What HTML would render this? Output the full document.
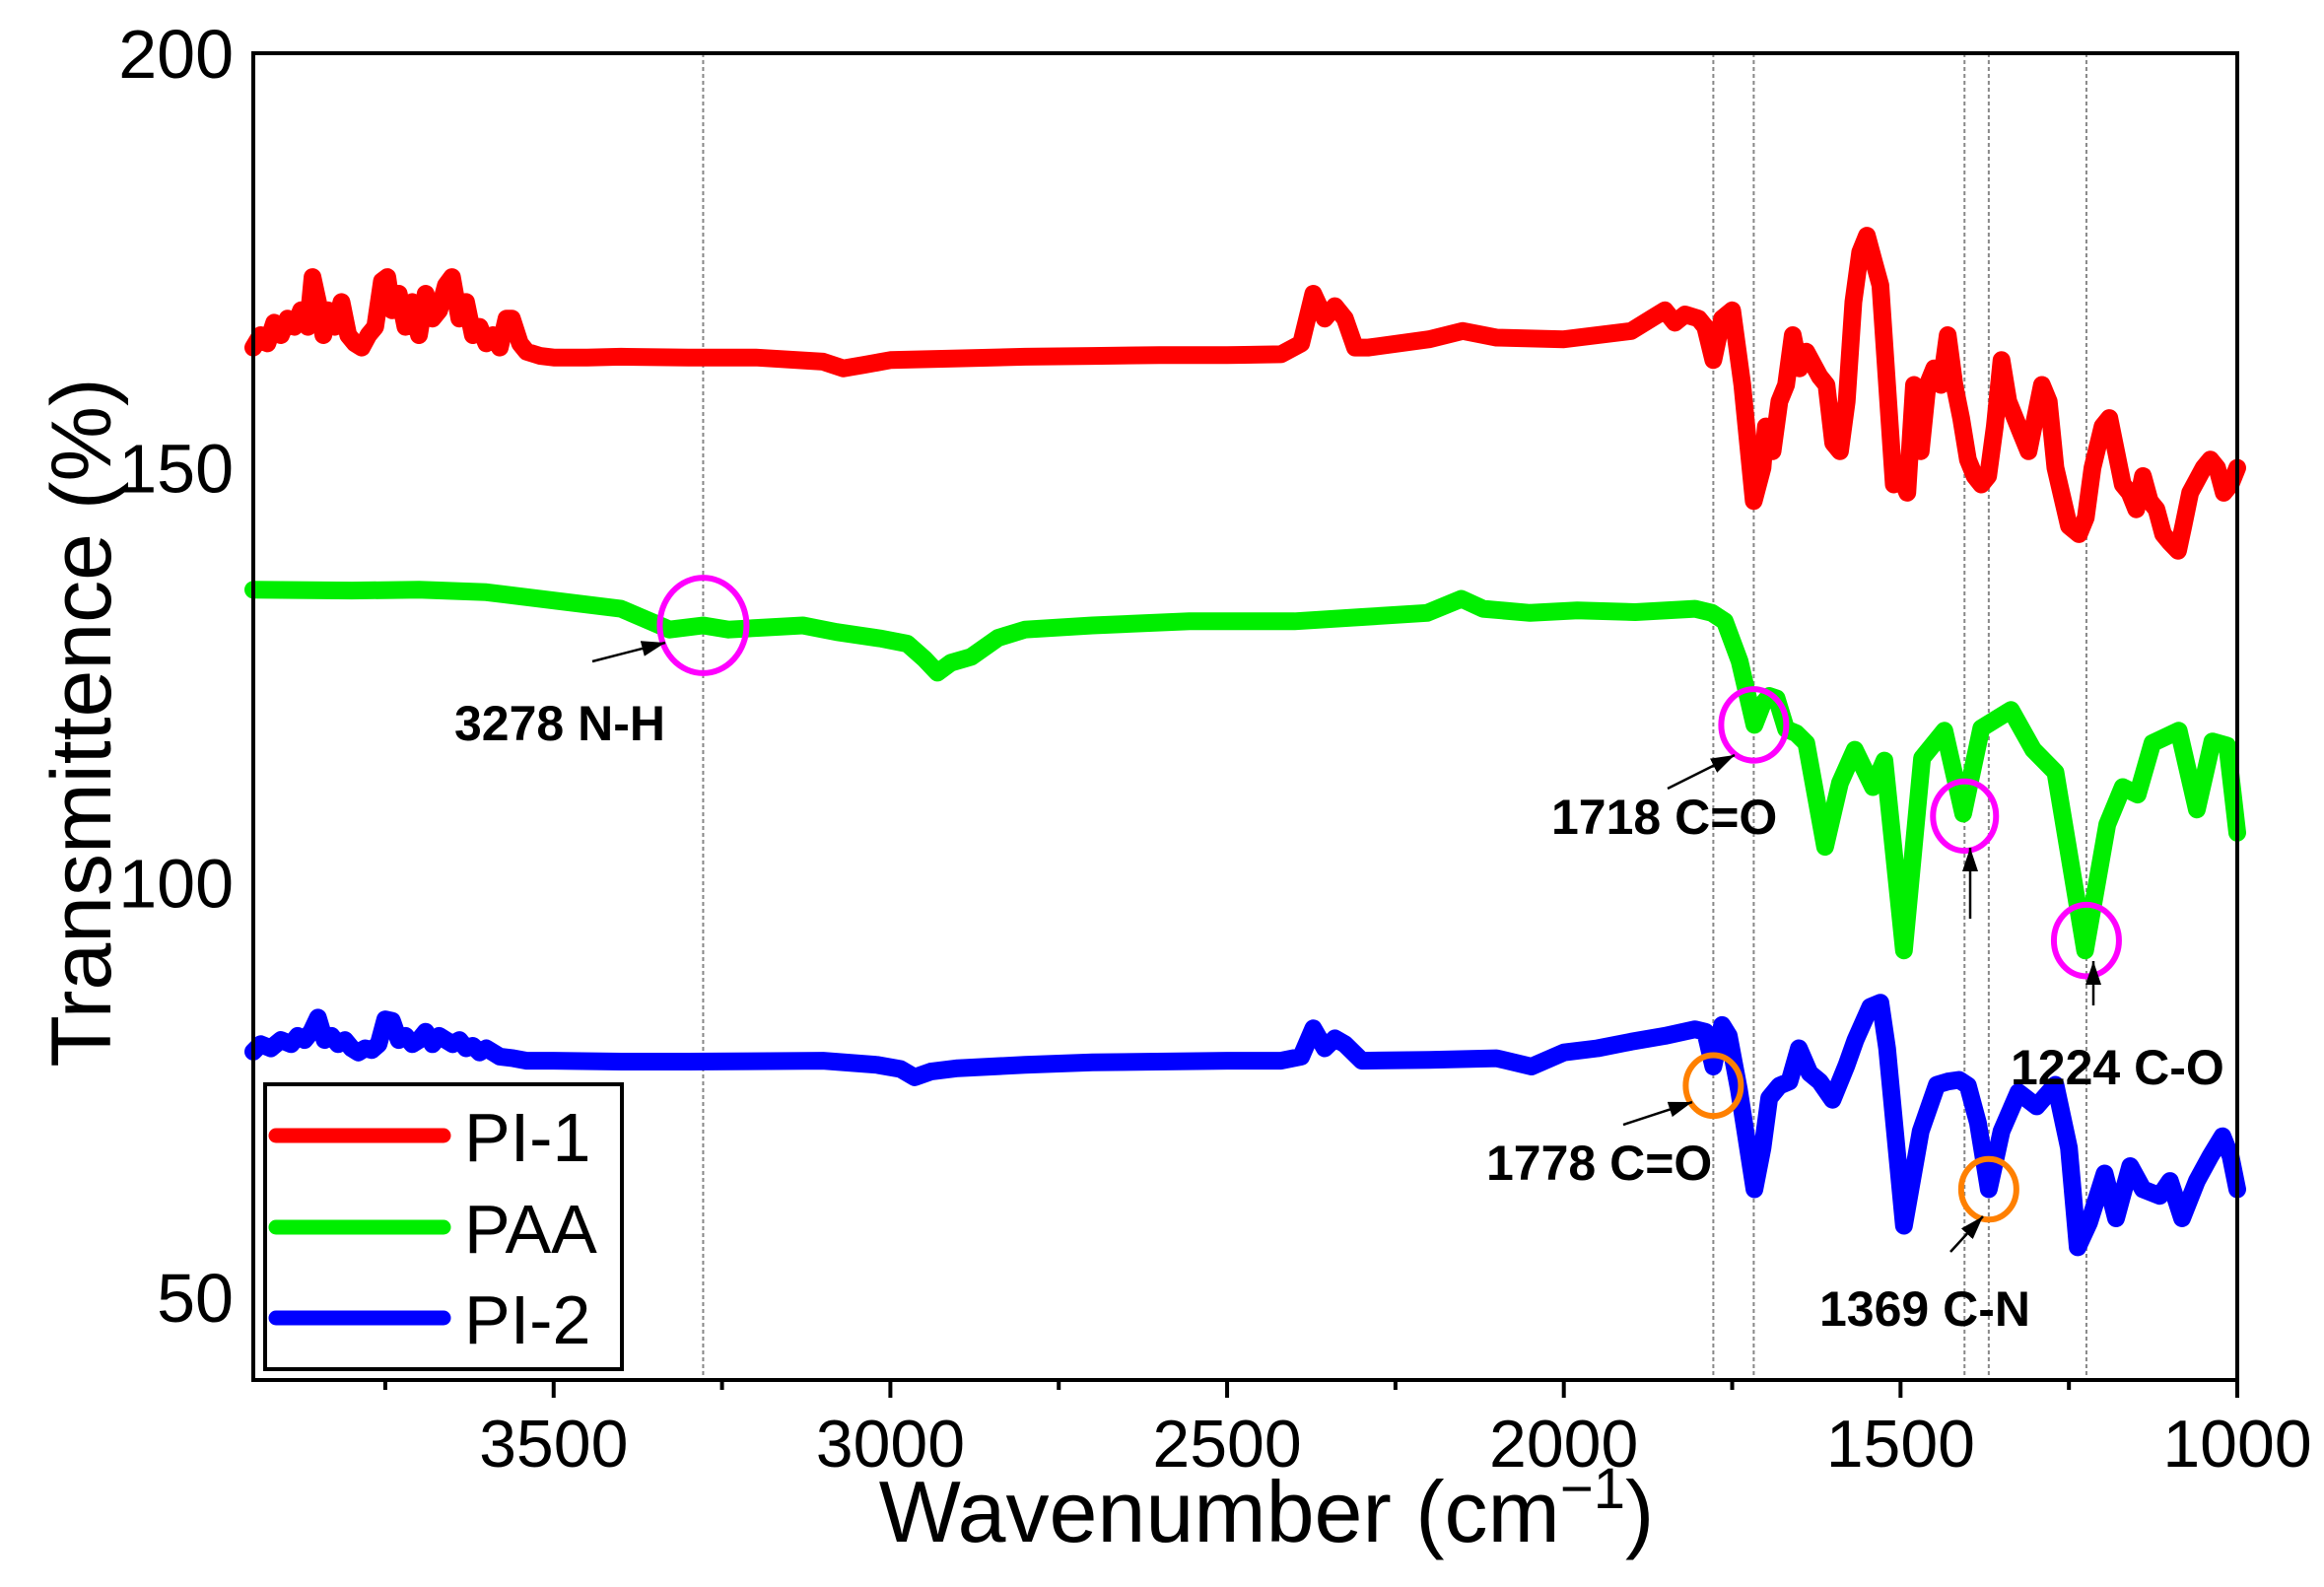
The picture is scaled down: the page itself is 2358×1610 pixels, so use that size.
<!DOCTYPE html>
<html><head><meta charset="utf-8"><style>
html,body{margin:0;padding:0;background:#fff;}
svg{display:block;font-family:"Liberation Sans",Arial,sans-serif;}
</style></head><body>
<svg id="chart" width="2358" height="1610" viewBox="0 0 2358 1610" xmlns="http://www.w3.org/2000/svg">
<defs><marker id="ah" markerWidth="24" markerHeight="16" refX="24" refY="8" orient="auto" markerUnits="userSpaceOnUse"><path d="M0,0 L24,8 L0,16 z" fill="#000"/></marker></defs>
<rect x="0" y="0" width="2358" height="1610" fill="#fff"/>
<g id="grid"></g>
<g id="series"></g>
<g id="annot"></g>
<rect x="257" y="54" width="2013" height="1346" fill="none" stroke="#000" stroke-width="4"/>
<g id="axes"></g>
<text x="1285" y="1564" font-size="88" text-anchor="middle">Wavenumber (cm<tspan font-size="58" dy="-34">−1</tspan><tspan dy="34">)</tspan></text>
<text transform="translate(112,733) rotate(-90)" font-size="86" text-anchor="middle">Transmittence (%)</text>
<g>
<rect x="269" y="1100" width="362" height="289" fill="#fff" stroke="#000" stroke-width="4"/>
<line x1="280" y1="1152" x2="450" y2="1152" stroke="#ff0000" stroke-width="15" stroke-linecap="round"/>
<text x="471" y="1178" font-size="70">PI-1</text>
<line x1="280" y1="1245" x2="450" y2="1245" stroke="#00ee00" stroke-width="15" stroke-linecap="round"/>
<text x="471" y="1271" font-size="70">PAA</text>
<line x1="280" y1="1337" x2="450" y2="1337" stroke="#0000ff" stroke-width="15" stroke-linecap="round"/>
<text x="471" y="1363" font-size="70">PI-2</text>
</g>
</svg>
<script>
const xTicks=[3500,3000,2500,2000,1500,1000];
const xMinorTicks=[3750,3250,2750,2250,1750,1250];
const yTicks=[50,100,150,200];
const refLines=[3278,1778,1718,1405,1369,1224];
const pi1Wn=[3946,3935,3925,3915,3905,3895,3885,3875,3865,3858,3850,3842,3835,3825,3815,3805,3795,3785,3775,3765,3755,3747,3740,3730,3720,3710,3700,3690,3680,3670,3660,3651,3640,3630,3620,3610,3600,3590,3580,3570,3562,3550,3540,3520,3500,3450,3400,3300,3200,3100,3070,3040,3000,2900,2800,2700,2600,2500,2420,2390,2372,2355,2340,2325,2310,2290,2200,2150,2100,2000,1900,1870,1850,1835,1820,1800,1790,1778,1765,1750,1735,1718,1705,1700,1690,1680,1670,1660,1650,1640,1620,1610,1600,1590,1580,1570,1560,1550,1540,1530,1520,1510,1500,1490,1480,1470,1460,1450,1440,1430,1420,1410,1400,1390,1380,1370,1360,1350,1340,1330,1320,1310,1300,1290,1280,1270,1250,1235,1225,1215,1200,1190,1180,1170,1160,1150,1140,1130,1120,1110,1100,1088,1080,1070,1050,1040,1030,1020,1010,1000];
const pi1Val=[164.5,166,165,167.5,166,168,167,169,167,173,170,166,169,167,170,166,165,164.5,166,167,172.5,173,169,171,167,170,166,171,168,169,172,173,168,170,166,167,165,166,164.5,168,168,165,164,163.5,163.3,163.3,163.4,163.3,163.3,162.8,162,162.4,163,163.2,163.4,163.5,163.6,163.6,163.7,165,171,168,169.5,168,164.5,164.5,165.5,166.5,165.7,165.5,166.5,168,169,167.5,168.5,168,167,163,168,169,160,146,150,155,152,158,160,166,162,164,161,160,153,152,158,170,176,178,175,172,160,148,149,147,160,152,160,162,160,166,160,156,151,149,148,149,155,163,158,156,154,152,156,160,158,150,143,142,144,150,155,156,152,148,147,145,149,146,145,142,141,140,143,147,150,151,150,147,148,150];
const paaWn=[3946,3800,3700,3600,3500,3400,3328,3278,3240,3173,3130,3080,3013,2975,2950,2930,2910,2880,2840,2800,2700,2556,2400,2300,2203,2152,2120,2050,1980,1894,1805,1780,1761,1739,1717,1705,1695,1684,1670,1655,1640,1612,1590,1568,1541,1524,1495,1468,1435,1407,1380,1336,1303,1270,1226,1193,1170,1148,1126,1087,1060,1037,1015,1000];
const paaVal=[135.3,135.2,135.3,135,134,133,130.5,131,130.5,130.8,131,130.2,129.4,128.8,127,125.3,126.5,127.2,129.5,130.5,131,131.5,131.5,132,132.5,134.2,133,132.5,132.8,132.6,133,132.5,131.5,126.7,119,121.5,122.5,122.2,118.5,118,116.8,104.3,112,116,111.5,114.7,91.8,115,118.3,108.3,118.6,120.8,116,113.3,91.8,107,111.5,110.6,116.8,118.3,108.8,117,116.5,106];
const pi2Wn=[3946,3935,3920,3905,3890,3880,3870,3860,3850,3840,3830,3820,3810,3800,3790,3780,3770,3760,3750,3740,3730,3720,3710,3700,3690,3680,3670,3660,3650,3640,3630,3620,3610,3600,3580,3560,3540,3500,3400,3300,3100,3020,2985,2964,2940,2900,2800,2700,2500,2420,2390,2372,2355,2340,2325,2300,2200,2100,2048,2000,1950,1900,1850,1805,1790,1778,1765,1755,1740,1717,1705,1695,1680,1665,1651,1635,1620,1601,1580,1567,1545,1530,1520,1495,1470,1446,1430,1413,1400,1385,1369,1350,1325,1298,1270,1250,1237,1220,1197,1180,1159,1140,1115,1100,1082,1060,1040,1022,1010,1000];
const pi2Val=[79.6,80.5,80,81,80.5,81.5,81,82,83.7,81,81.5,80.5,81,80,79.5,80,79.8,80.5,83.5,83.3,81,81.5,80.5,81,82,80.5,81.5,81,80.5,81,80,80.3,79.5,80,79,78.8,78.5,78.5,78.4,78.4,78.5,78,77.5,76.5,77.2,77.6,78,78.3,78.5,78.5,79,82.4,80,81.2,80.5,78.5,78.6,78.8,77.8,79.5,80,80.8,81.5,82.3,82,77.8,82.8,81.5,75,63,68,74,75.5,76,80,77,76,73.8,78,81,85,85.5,80,58.6,70,75.6,76,76.2,75.5,71,63,70,74.7,73,75.6,68,56,59,64.9,59.5,65.8,63,62.2,64,59.5,64,67,69.4,67,63];
const SVGNS='http://www.w3.org/2000/svg';
const X0=257,X1=2270,Y0=54,Y1=1400,WN0=3946,WN1=1000,V0=40,V1=200;
function xs(w){return X0+(WN0-w)*(X1-X0)/(WN0-WN1);}
function ys(v){return Y1-(v-V0)*(Y1-Y0)/(V1-V0);}
function mk(tag,attrs,parent){const e=document.createElementNS(SVGNS,tag);for(const k in attrs)e.setAttribute(k,attrs[k]);parent.appendChild(e);return e;}
const grid=document.getElementById('grid'),series=document.getElementById('series'),axes=document.getElementById('axes'),annot=document.getElementById('annot');
refLines.forEach(w=>{const l=mk('line',{x1:xs(w),x2:xs(w),y1:Y0,y2:Y1,stroke:'#888','stroke-width':2,'stroke-dasharray':'4,3'},grid);

});
function drawSeries(wn,val,color,name){const d=wn.map((w,i)=>(i?'L':'M')+xs(w).toFixed(1)+','+ys(val[i]).toFixed(1)).join(' ');
const p=mk('path',{d:d,fill:'none',stroke:color,'stroke-width':18,'stroke-linejoin':'round','stroke-linecap':'round'},series);

}
drawSeries(pi1Wn,pi1Val,'#ff0000','series-pi1');
drawSeries(paaWn,paaVal,'#00ee00','series-paa');
drawSeries(pi2Wn,pi2Val,'#0000ff','series-pi2');
xTicks.forEach(w=>{const t=mk('line',{x1:xs(w),x2:xs(w),y1:Y1,y2:Y1+18,stroke:'#000','stroke-width':4},axes);


const tx=mk('text',{x:xs(w),y:1488,'font-size':68,'text-anchor':'middle'},axes);tx.textContent=w;

});
xMinorTicks.forEach(w=>{const t=mk('line',{x1:xs(w),x2:xs(w),y1:Y1,y2:Y1+10,stroke:'#000','stroke-width':4},axes);

});
yTicks.forEach(v=>{const tx=mk('text',{x:237,y:ys(v)+25,'font-size':70,'text-anchor':'end'},axes);tx.textContent=v;

});
const circles=[[3278,131,44,'#ff00ff'],[1718,119,33,'#ff00ff'],[1405,108,32,'#ff00ff'],[1224,93,33,'#ff00ff'],[1778,75.5,28,'#ff8000'],[1369,63,28,'#ff8000']];
circles.forEach(c=>{const e=mk('ellipse',{cx:xs(c[0]),cy:ys(c[1]),rx:c[2],ry:c[2]*1.1,fill:'none',stroke:c[3],'stroke-width':6},annot);

});
const arrows=[[601,671,675,652],[1692,800,1760,766],[1999,932,1999,860],[2124,1020,2124,975],[1647,1141,1717,1118],[1979,1270,2012,1234]];
arrows.forEach((a,i)=>{const l=mk('line',{x1:a[0],y1:a[1],x2:a[2],y2:a[3],stroke:'#000','stroke-width':2.5,'marker-end':'url(#ah)'},annot);

});
const labels=[[461,751,'3278 N-H'],[1574,846,'1718 C=O'],[2040,1100,'1224 C-O'],[1508,1197,'1778 C=O'],[1846,1345,'1369 C-N']];
labels.forEach(l=>{const t=mk('text',{x:l[0],y:l[1],'font-size':50,'font-weight':'bold'},annot);t.textContent=l[2];

});
</script>
</body></html>
